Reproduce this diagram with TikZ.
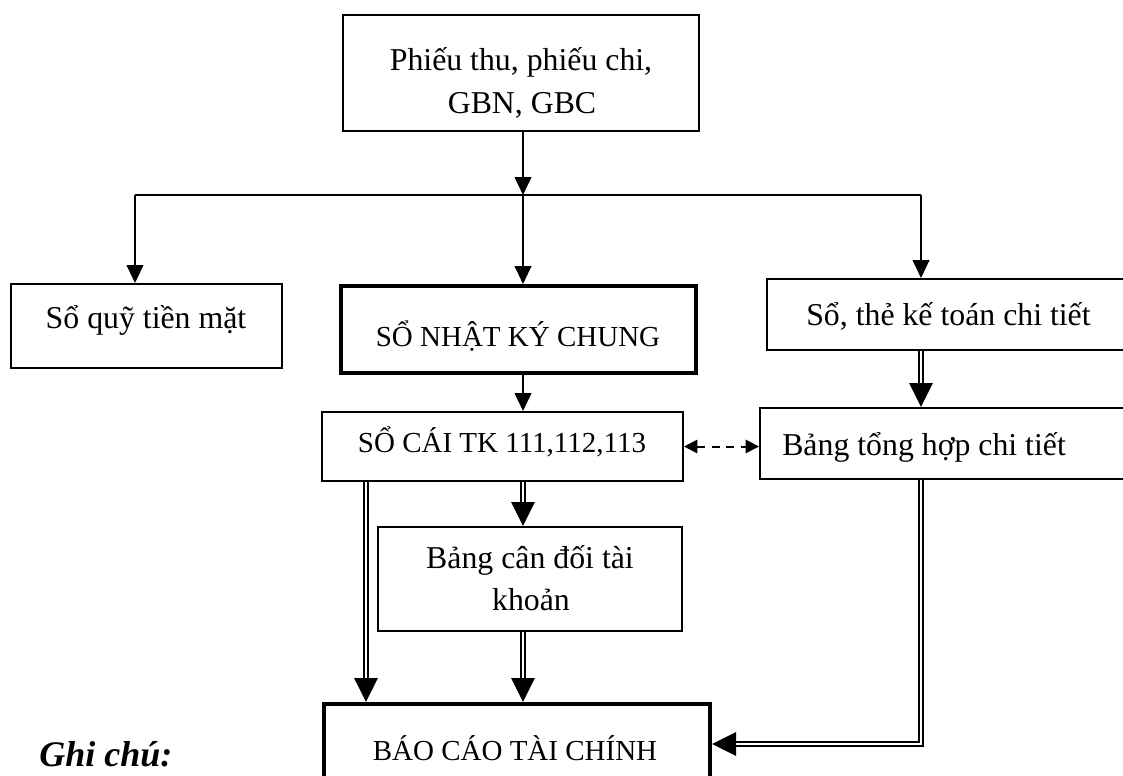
\documentclass[tikz,border=0pt]{standalone}
\usepackage{fontspec}
\setmainfont{Liberation Serif}
\usetikzlibrary{arrows.meta}
\tikzset{
  box/.style={draw, rectangle, line width=1.5pt, inner sep=0pt},
  thickbox/.style={box, line width=3pt},
  sz/.style args={#1x#2}{minimum width=#1*0.75pt, minimum height=#2*0.75pt},
  lbl/.style={anchor=base, inner sep=0pt, font=\fontsize{23.85}{28}\selectfont},
  caps/.style={lbl, font=\fontsize{21.75}{26}\selectfont},
  note/.style={anchor=base west, inner sep=0pt, font=\fontsize{27}{31}\selectfont\bfseries\itshape},
  busline/.style={line width=1pt},
  arr/.style={line width=1.5pt, -{Triangle[length=13.5pt,width=12.5pt]}},
  dblarr/.style={double, double distance=1.7pt, line width=1.4pt,
                 -{Triangle[length=18pt,width=17.5pt]}},
  linkarr/.style={dash pattern=on 6pt off 5pt, line width=1.5pt,
                  {Triangle[length=10pt,width=10pt]}-{Triangle[length=10pt,width=10pt]}}
}
\begin{document}
\begin{tikzpicture}[x=0.75pt,y=-0.75pt]
\useasboundingbox (0,0) rectangle (1123,775);
\clip (0,0) rectangle (1123,775);

% column positions of the connectors
\coordinate (mid)  at (523,0);
\coordinate (lcol) at (366,0);
\coordinate (busL) at (135,195);
\coordinate (busR) at (921,195);
\coordinate (bend) at (921,744);

% boxes
\node[box, sz=356x116]      (A) at (521,73)    {};
\node[box, sz=271x84]       (B) at (146.5,326) {};
\node[thickbox, sz=355x87]  (C) at (518.5,329.5) {};
\node[box, sz=383x71]       (D) at (958.5,314.5) {};
\node[box, sz=361x69]       (E) at (502.5,446.5) {};
\node[box, sz=390x71]       (F) at (955,443.5) {};
\node[box, sz=304x104]      (G) at (530,579)   {};
\node[thickbox, sz=386x106] (H) at (517,757)   {};

% texts
\node[lbl]  (tA1) at (521,70)  {Phiếu thu, phiếu chi,};
\node[lbl]  (tA2) at (522,113) {GBN, GBC};
\node[lbl]  (tB)  at (146,328) {Sổ quỹ tiền mặt};
\node[caps] (tC)  at (518,346) {SỔ NHẬT KÝ CHUNG};
\node[lbl, anchor=base west] (tD) at (806,325) {Sổ, thẻ kế toán chi tiết};
\node[caps] (tE)  at (502,452) {SỔ CÁI TK 111,112,113};
\node[lbl, anchor=base west] (tF) at (782,455) {Bảng tổng hợp chi tiết};
\node[lbl]  (tG1) at (530,568) {Bảng cân đối tài};
\node[lbl]  (tG2) at (531,610) {khoản};
\node[caps] (tH)  at (515,760) {BÁO CÁO TÀI CHÍNH};
\node[note] (ghi) at (39,766)  {Ghi chú:};

% distribution from the source documents
\draw[arr] (A.south -| mid) -- (busL -| mid);
\draw[busline] (busL) -- (busR);
\draw[arr] (busL) -- (B.north -| busL);
\draw[arr] (busL -| mid) -- (C.north -| mid);
\draw[arr] (busR) -- (D.north -| busR);

% journal to ledger
\draw[arr] (C.south -| mid) -- (E.north -| mid);

% reconciliation between ledger and detail summary
\draw[linkarr] (E.east) -- (F.west |- E.east);

% summary flows (double lines)
\draw[dblarr] (D.south -| busR) -- (F.north -| busR);
\draw[dblarr] (E.south -| mid) -- (G.north -| mid);
\draw[dblarr] (G.south -| mid) -- (H.north -| mid);
\draw[dblarr] (E.south -| lcol) -- (H.north -| lcol);
\draw[dblarr] (F.south -| bend) -- (bend) -- (H.east |- bend);
\end{tikzpicture}
\end{document}
